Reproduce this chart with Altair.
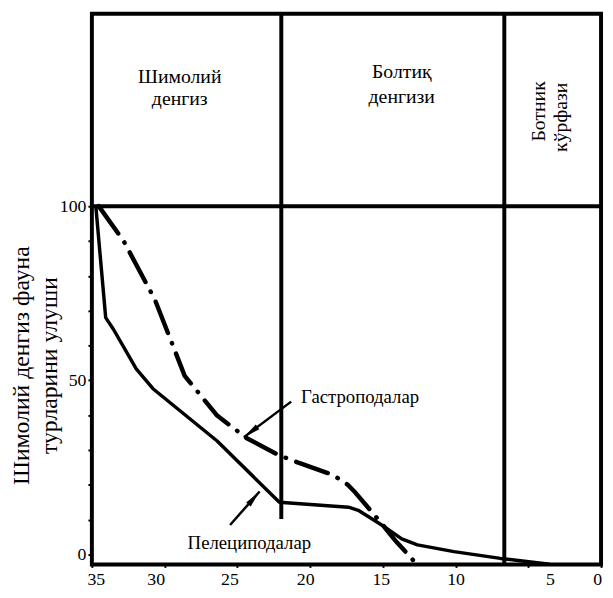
import altair as alt
import pandas as pd

# ---------------- data ----------------
x_ticks = [35, 30, 25, 20, 15, 10, 5, 0]
y_ticks = [0, 10, 20, 30, 40, 50, 60, 70, 80, 90, 100]

# Пелециподалар (solid line)
pelecypod_x = [34.73, 34.05, 33.51, 31.95, 30.80, 26.39, 22.11, 17.36, 16.69, 14.86, 13.70, 12.62, 10.11, 6.92, 3.53]
pelecypod_y = [100.0, 68.0, 64.6, 53.3, 47.6, 32.6, 15.0, 13.6, 12.7, 7.9, 4.5, 2.8, 0.85, -1.1, -2.8]

# Гастроподалар (dash-dot line)
gastropod_x = [34.53, 32.83, 30.66, 28.62, 26.39, 24.35, 22.18, 20.76, 18.45, 17.43, 16.89, 15.06, 14.18, 13.02, 12.75]
gastropod_y = [100.0, 90.1, 73.1, 51.3, 39.9, 33.4, 28.6, 26.3, 22.9, 20.1, 17.8, 8.8, 4.2, -1.1, -2.5]

# sea boundaries (vertical lines) and their lower ends
boundary_x = [21.98, 6.65]
boundary_bottom = [10.2, -2.83]
reference_level = [100]

# region names
region_text = ["Шимолий", "денгиз", "Болтиқ", "денгизи"]
region_x = [28.96, 28.96, 13.70, 13.70]
region_y = [137.1, 130.6, 138.5, 131.3]
gulf_text = ["Ботник", "кўрфази"]
gulf_x = [4.27, 2.78]
gulf_y = [127.2, 125.5]

# annotations with arrows
note_text = ["Гастроподалар", "Пелециподалар"]
note_x = [20.62, 28.42]
note_y = [45.3, 3.4]
arrow_tail_x = [21.30, 25.50]
arrow_tail_y = [43.9, 8.5]
arrow_tip_x = [24.55, 23.47]
arrow_tip_y = [33.7, 18.1]
arrow_angle = [233, 41]

# ---------------- chart ----------------
FONT = "Liberation Serif"
xs = alt.Scale(domain=[35, 0], nice=False, zero=False)
ys = alt.Scale(domain=[-2.83, 155.2], nice=False, zero=False)

x_axis = alt.Axis(
    values=x_ticks, title=None, domain=False, grid=False,
    tickSize=3, tickWidth=2, tickColor="black",
    labelFont=FONT, labelFontSize=18, labelColor="black", labelPadding=3,
    labelFlush=False, labelOverlap=False,
    labelOffset={"condition": [
        {"test": "datum.value == 35", "value": 4},
        {"test": "datum.value == 30", "value": -9},
        {"test": "datum.value == 25", "value": -8},
        {"test": "datum.value == 20", "value": -5},
        {"test": "datum.value == 15", "value": -2},
        {"test": "datum.value == 10", "value": 0},
        {"test": "datum.value == 5", "value": 22},
        {"test": "datum.value == 0", "value": -4},
    ], "value": 0},
)
y_axis = alt.Axis(
    values=y_ticks, domain=False, grid=False,
    labelExpr="datum.value % 50 === 0 ? datum.label : ''",
    tickSize=4, tickWidth=2, tickColor="black",
    labelFont=FONT, labelFontSize=18, labelColor="black", labelPadding=2,
    title=["Шимолий денгиз фауна", "турларини улуши"],
    titleFont=FONT, titleFontSize=24, titleFontWeight="normal", titleColor="black",
    titleAngle=270, titleAlign="center", titleBaseline="middle",
    titleLineHeight=28, titleX=-71, titleY=356,
)

pel_df = pd.DataFrame({"x": pelecypod_x, "y": pelecypod_y, "i": range(len(pelecypod_x))})
gas_df = pd.DataFrame({"x": gastropod_x, "y": gastropod_y, "i": range(len(gastropod_x))})

pel = alt.Chart(pel_df).mark_line(color="black", strokeWidth=3.5, strokeJoin="round").encode(
    x=alt.X("x:Q", scale=xs, axis=x_axis),
    y=alt.Y("y:Q", scale=ys, axis=y_axis),
    order="i:Q",
)
gas = alt.Chart(gas_df).mark_line(
    color="black", strokeWidth=4.5, strokeCap="round", strokeJoin="round",
    strokeDash=[34, 11, 0.5, 11],
).encode(
    x=alt.X("x:Q", scale=xs),
    y=alt.Y("y:Q", scale=ys),
    order="i:Q",
)

hline = alt.Chart(pd.DataFrame({"y": reference_level})).mark_rule(color="black", strokeWidth=4).encode(
    y=alt.Y("y:Q", scale=ys)
)
vlines = alt.Chart(pd.DataFrame({"x": boundary_x, "yb": boundary_bottom})).mark_rule(
    color="black", strokeWidth=4
).encode(
    x=alt.X("x:Q", scale=xs),
    y=alt.Y("yb:Q", scale=ys),
    y2=alt.value(0),
)

regions = alt.Chart(pd.DataFrame({"t": region_text, "x": region_x, "y": region_y})).mark_text(
    font=FONT, fontSize=20, color="black", align="center", baseline="middle"
).encode(x=alt.X("x:Q", scale=xs), y=alt.Y("y:Q", scale=ys), text="t:N")

gulf = alt.Chart(pd.DataFrame({"t": gulf_text, "x": gulf_x, "y": gulf_y})).mark_text(
    font=FONT, fontSize=20, color="black", align="center", baseline="middle", angle=270
).encode(x=alt.X("x:Q", scale=xs), y=alt.Y("y:Q", scale=ys), text="t:N")

notes = alt.Chart(pd.DataFrame({"t": note_text, "x": note_x, "y": note_y})).mark_text(
    font=FONT, fontSize=19, color="black", align="left", baseline="middle"
).encode(x=alt.X("x:Q", scale=xs), y=alt.Y("y:Q", scale=ys), text="t:N")

arrow_df = pd.DataFrame({
    "x1": arrow_tail_x, "y1": arrow_tail_y,
    "x2": arrow_tip_x, "y2": arrow_tip_y, "a": arrow_angle,
})
shafts = alt.Chart(arrow_df).mark_rule(color="black", strokeWidth=2.5).encode(
    x=alt.X("x1:Q", scale=xs), y=alt.Y("y1:Q", scale=ys),
    x2="x2:Q", y2="y2:Q",
)
heads = alt.Chart(arrow_df).mark_point(
    shape="M0,0L0.35,2L-0.35,2Z", filled=True, color="black", opacity=1, size=300, strokeWidth=0
).encode(
    x=alt.X("x2:Q", scale=xs), y=alt.Y("y2:Q", scale=ys),
    angle=alt.Angle("a:Q", scale=None),
)

chart = alt.layer(
    hline, vlines, gas, pel, regions, gulf, notes, shafts, heads
).properties(
    width=516, height=558,
    background="white",
    autosize=alt.AutoSizeParams(type="none"),
    padding={"left": 85, "top": 2, "right": 4, "bottom": 22},
).configure(
    font=FONT
).configure_view(
    stroke="black", strokeWidth=4
)

chart.save("out.html", embed_options={"renderer": "svg", "actions": False})
